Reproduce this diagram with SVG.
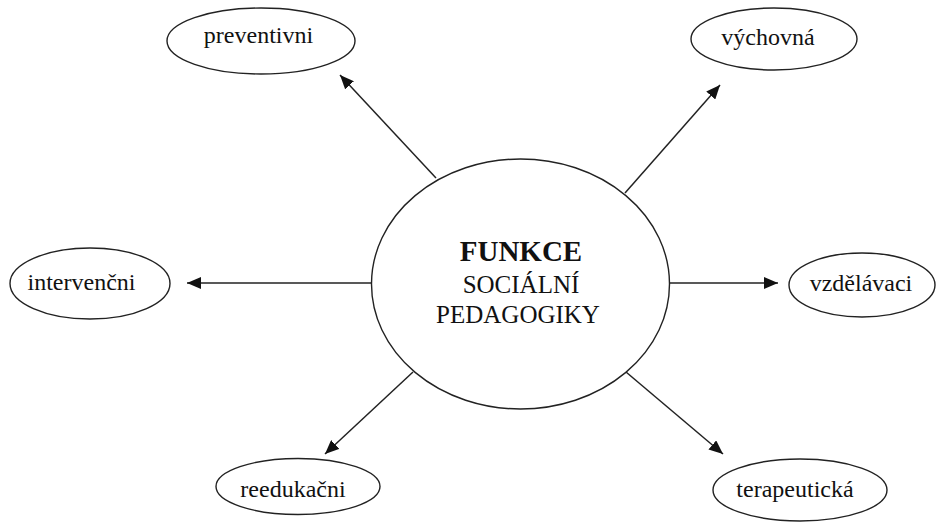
<svg xmlns="http://www.w3.org/2000/svg" width="936" height="524" viewBox="0 0 936 524">
<style>
.node{fill:#fff;stroke:#222;stroke-width:1.4}
.lbl{font-family:"Liberation Serif","Times New Roman",serif;font-size:24px;fill:#111;text-anchor:middle}
.edge{stroke:#222;stroke-width:1.5;fill:none;marker-end:url(#ah)}
</style>
<defs>
<marker id="ah" markerUnits="userSpaceOnUse" markerWidth="15" markerHeight="12" refX="14" refY="6" orient="auto">
<path d="M0,0 L14,6 L0,12 z" fill="#111"/>
</marker>
</defs>
<rect width="936" height="524" fill="#fff"/>
<g id="connectors">
<line class="edge" x1="436" y1="178" x2="340" y2="75"/>
<line class="edge" x1="625" y1="193" x2="720" y2="85"/>
<line class="edge" x1="372" y1="283" x2="187" y2="283"/>
<line class="edge" x1="670" y1="283" x2="778" y2="283"/>
<line class="edge" x1="413" y1="372" x2="325" y2="454"/>
<line class="edge" x1="626" y1="372" x2="723" y2="454"/>
</g>
<g id="center">
<ellipse class="node" cx="520.5" cy="284" rx="149" ry="125"/>
<text class="lbl" x="521" y="261" style="font-weight:bold;font-size:29px">FUNKCE</text>
<text class="lbl" x="521" y="293" style="font-size:25px">SOCIÁLNÍ</text>
<text class="lbl" x="518" y="323" style="font-size:25px">PEDAGOGIKY</text>
</g>
<g id="preventivni">
<ellipse class="node" cx="261" cy="41" rx="94" ry="33"/>
<text class="lbl" x="258.5" y="43">preventivni</text>
</g>
<g id="vychovna">
<ellipse class="node" cx="774" cy="39" rx="83" ry="31"/>
<text class="lbl" x="768" y="45">výchovná</text>
</g>
<g id="intervencni">
<ellipse class="node" cx="90" cy="283.5" rx="80" ry="35.5"/>
<text class="lbl" x="81.5" y="290">intervenčni</text>
</g>
<g id="vzdelavaci">
<ellipse class="node" cx="862" cy="285" rx="73" ry="32"/>
<text class="lbl" x="861" y="291">vzdělávaci</text>
</g>
<g id="reedukacni">
<ellipse class="node" cx="298" cy="486.5" rx="82" ry="28"/>
<text class="lbl" x="293" y="497">reedukačni</text>
</g>
<g id="terapeuticka">
<ellipse class="node" cx="800" cy="490" rx="87" ry="31"/>
<text class="lbl" x="795" y="497">terapeutická</text>
</g>
</svg>
